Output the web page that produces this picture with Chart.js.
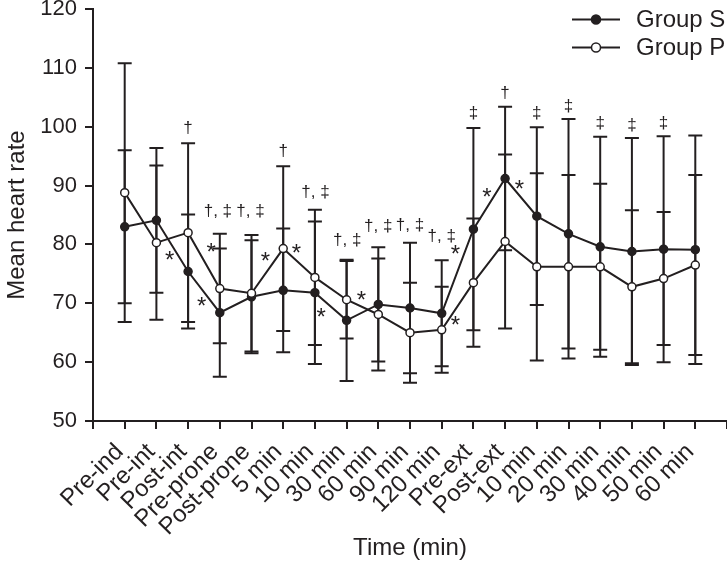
<!DOCTYPE html>
<html lang="en">
<head>
<meta charset="UTF-8">
<title>Mean heart rate</title>
<script src="https://cdn.jsdelivr.net/npm/chart.js"></script>
<style>
  html, body { margin: 0; padding: 0; background: #fff; }
  #wrap { width: 727px; height: 566px; position: relative; }
</style>
</head>
<body>
<div id="wrap"><canvas id="myChart"></canvas></div>
<script>
// time points
const categories = ['Pre-ind', 'Pre-int', 'Post-int', 'Pre-prone', 'Post-prone', '5 min', '10 min', '30 min', '60 min',
  '90 min', '120 min', 'Pre-ext', 'Post-ext', '10 min', '20 min', '30 min', '40 min', '50 min', '60 min'];

// means and SD
const groupS = [83.0, 84.1, 75.4, 68.4, 71.1, 72.2, 71.8, 67.1, 69.8, 69.2, 68.3, 82.6, 91.2, 84.8, 81.8, 79.6, 78.8, 79.2, 79.1];
const sdS    = [13.0, 12.3, 9.7, 10.9, 9.6, 10.5, 12.1, 10.3, 9.7, 11.1, 9.0, 17.2, 12.2, 15.1, 19.5, 18.7, 19.3, 19.2, 19.4];
const groupP = [88.8, 80.3, 82.0, 72.5, 71.7, 79.3, 74.4, 70.6, 68.1, 65.0, 65.5, 73.5, 80.5, 76.2, 76.2, 76.2, 72.8, 74.2, 76.5];
const sdP    = [22.0, 13.1, 15.2, 9.3, 9.9, 14.0, 11.5, 6.6, 9.5, 8.5, 7.3, 10.9, 14.8, 15.9, 15.6, 14.1, 13.0, 11.3, 15.3];

const yTicks = [50, 60, 70, 80, 90, 100, 110, 120];

// significance marks: [category index, value, symbol]
const marks = [
  [2, 99.8, '†'], [1.42, 77.9, '*'], [2.43, 70.1, '*'], [2.73, 79.3, '*'],
  [2.94, 85.6, '†, ‡'], [3.97, 85.6, '†, ‡'], [4.44, 77.8, '*'], [5, 95.8, '†'], [5.42, 79.2, '*'],
  [6.02, 88.8, '†, ‡'], [6.2, 68.3, '*'], [7.02, 80.75, '†, ‡'], [7.47, 71.2, '*'],
  [8, 83.0, '†, ‡'], [9, 83.3, '†, ‡'], [10, 81.4, '†, ‡'], [10.43, 79.0, '*'], [10.43, 66.85, '*'],
  [11, 102.3, '‡'], [11.43, 88.7, '*'], [12, 105.7, '†'], [12.45, 90.1, '*'],
  [13, 102.3, '‡'], [14, 103.5, '‡'], [15, 100.5, '‡'], [16, 100.2, '‡'], [17, 100.5, '‡']
];

const ink = '#231f20';
const FONT = "'Liberation Sans', Arial, sans-serif";

// empty slot at both ends so the axis runs a full step past first/last point
const labels = [''].concat(categories, ['']);
const pad = arr => [null].concat(arr, [null]);

const errorBars = {
  id: 'errorBars',
  beforeDatasetsDraw(chart) {
    const ctx = chart.ctx, x = chart.scales.x, y = chart.scales.y;
    ctx.save();
    ctx.strokeStyle = ink;
    ctx.lineWidth = 2;
    [[groupS, sdS], [groupP, sdP]].forEach(function (g) {
      g[0].forEach(function (m, i) {
        const px = x.getPixelForValue(i + 1);
        const top = y.getPixelForValue(m + g[1][i]);
        const bot = y.getPixelForValue(m - g[1][i]);
        ctx.beginPath();
        ctx.moveTo(px, top); ctx.lineTo(px, bot);
        ctx.moveTo(px - 7, top); ctx.lineTo(px + 7, top);
        ctx.moveTo(px - 7, bot); ctx.lineTo(px + 7, bot);
        ctx.stroke();
      });
    });
    ctx.restore();
  }
};

const extras = {
  id: 'extras',
  afterDraw(chart) {
    const ctx = chart.ctx, x = chart.scales.x, y = chart.scales.y;
    ctx.save();
    ctx.fillStyle = ink;
    ctx.textAlign = 'center';
    ctx.textBaseline = 'middle';
    marks.forEach(function (mk) {
      const px = x.getPixelForValue(mk[0] + 1);
      const py = y.getPixelForValue(mk[1]);
      if (mk[2] === '*') {
        ctx.font = '24px ' + FONT;
        ctx.fillText('*', px, py + 5);
      } else {
        ctx.font = '17px ' + FONT;
        ctx.fillText(mk[2], px, py);
      }
    });

    // legend
    const rows = [['Group S', ink, 19.5], ['Group P', '#fff', 47.5]];
    rows.forEach(function (r) {
      ctx.strokeStyle = ink;
      ctx.lineWidth = 2;
      ctx.beginPath();
      ctx.moveTo(572, r[2]); ctx.lineTo(620, r[2]);
      ctx.stroke();
      ctx.beginPath();
      ctx.arc(596, r[2], 4.5, 0, Math.PI * 2);
      ctx.fillStyle = r[1];
      ctx.fill();
      ctx.lineWidth = 1.5;
      ctx.stroke();
      ctx.fillStyle = ink;
      ctx.font = '24px ' + FONT;
      ctx.textAlign = 'left';
      ctx.fillText(r[0], 636, r[2] + 1);
    });
    ctx.restore();
  }
};

new Chart(document.getElementById('myChart'), {
  type: 'line',
  data: {
    labels: labels,
    datasets: [{
      label: 'Group S',
      data: pad(groupS),
      borderColor: ink,
      backgroundColor: ink,
      borderWidth: 2,
      pointRadius: 4,
      pointBorderWidth: 1.5,
      pointBackgroundColor: ink,
      pointBorderColor: ink,
      order: 1
    }, {
      label: 'Group P',
      data: pad(groupP),
      borderColor: ink,
      backgroundColor: '#fff',
      borderWidth: 2,
      pointRadius: 4,
      pointBorderWidth: 1.5,
      pointBackgroundColor: '#fff',
      pointBorderColor: ink,
      order: 0
    }]
  },
  options: {
    responsive: true,
    maintainAspectRatio: false,
    animation: false,
    layout: { autoPadding: false, padding: { left: 0, right: 0, top: 9, bottom: 0 } },
    plugins: { legend: { display: false }, tooltip: { enabled: false } },
    scales: {
      x: {
        type: 'category',
        offset: false,
        grid: { drawOnChartArea: false, color: ink, lineWidth: 2, tickLength: 8 },
        border: { color: ink, width: 2 },
        ticks: {
          autoSkip: false, maxRotation: 45, minRotation: 45, labelOffset: -5,
          color: ink, font: { family: FONT, size: 24 }, padding: 9
        },
        title: { display: true, text: 'Time (min)', color: ink, font: { family: FONT, size: 24 }, padding: { top: 0, bottom: 3 } },
        afterFit: function (s) { s.height = 145; s.paddingLeft = 0; s.paddingRight = 0; }
      },
      y: {
        min: 50, max: 120,
        afterBuildTicks: function (s) { s.ticks = yTicks.map(v => ({ value: v })); },
        grid: { drawOnChartArea: false, color: ink, lineWidth: 2, tickLength: 8 },
        border: { color: ink, width: 2 },
        ticks: { color: ink, font: { family: FONT, size: 22 }, padding: 8 },
        title: { display: true, text: 'Mean heart rate', color: ink, font: { family: FONT, size: 24 }, padding: { top: 3, bottom: 0 } },
        afterFit: function (s) { s.width = 93; s.paddingTop = 0; s.paddingBottom = 0; }
      }
    }
  },
  plugins: [errorBars, extras]
});
</script>
</body>
</html>
